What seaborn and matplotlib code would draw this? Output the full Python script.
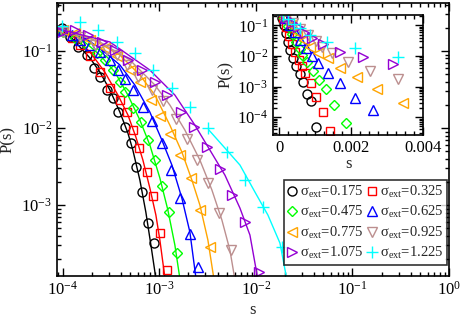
import numpy as np
import matplotlib
matplotlib.use("Agg")
import matplotlib.pyplot as plt
import seaborn as sns
from matplotlib.ticker import LogLocator, MultipleLocator, NullFormatter, FixedLocator, FixedFormatter

# ------------------------------------------------------------
# data
# ------------------------------------------------------------
sigma_ext = ["0.175", "0.325", "0.475", "0.625", "0.775", "0.925", "1.075", "1.225"]
colors = ["#000000", "#FF0000", "#00FF00", "#0000FF", "#FFA500", "#BC8F8F", "#9400D3", "#00FFFF"]
markers = ["o", "s", "D", "^", "<", "v", ">", "+"]
msizes = [6.5, 6, 5, 7, 7, 7, 7, 8]

# main panel: measured points
main_s = [
    [9.76e-5, 1.18e-4, 1.43e-4, 1.77e-4, 2.10e-4, 2.42e-4, 2.86e-4, 3.30e-4, 3.72e-4, 4.39e-4, 5.07e-4, 5.71e-4, 6.59e-4, 7.60e-4, 8.77e-4],
    [9.76e-5, 1.24e-4, 1.50e-4, 1.91e-4, 2.42e-4, 3.07e-4, 3.90e-4, 4.61e-4, 5.31e-4, 6.13e-4, 7.42e-4, 8.56e-4, 1.012e-3, 1.196e-3],
    [1.0e-4, 1.33e-4, 1.69e-4, 2.25e-4, 2.72e-4, 3.30e-4, 3.90e-4, 4.39e-4, 5.31e-4, 6.43e-4, 7.60e-4, 8.98e-4, 1.061e-3, 1.254e-3, 1.518e-3],
    [1.0e-4, 1.24e-4, 1.50e-4, 1.91e-4, 2.42e-4, 3.07e-4, 3.72e-4, 4.39e-4, 5.31e-4, 6.75e-4, 8.36e-4, 1.061e-3, 1.316e-3, 1.631e-3, 2.070e-3, 2.506e-3],
    [1.0e-4, 1.33e-4, 1.91e-4, 2.72e-4, 3.63e-4, 4.95e-4, 6.28e-4, 8.17e-4, 1.012e-3, 1.284e-3, 1.631e-3, 2.12e-3, 2.628e-3, 3.337e-3],
    [1.0e-4, 1.50e-4, 2.15e-4, 2.86e-4, 3.63e-4, 4.61e-4, 5.99e-4, 8.36e-4, 1.087e-3, 1.482e-3, 1.927e-3, 2.447e-3, 3.182e-3, 4.137e-3, 5.51e-3],
    [9.76e-5, 1.33e-4, 1.82e-4, 2.54e-4, 3.46e-4, 4.72e-4, 6.59e-4, 8.98e-4, 1.196e-3, 1.670e-3, 2.278e-3, 3.106e-3, 4.236e-3, 5.64e-3, 7.69e-3, 1.074e-2],
    [9.76e-5, 1.50e-4, 2.31e-4, 3.63e-4, 5.57e-4, 8.56e-4, 1.348e-3, 2.070e-3, 3.182e-3, 5.006e-3, 7.69e-3, 1.182e-2, 1.860e-2],
]
main_p = [
    [0.199, 0.152, 0.113, 0.0887, 0.0601, 0.0459, 0.0312, 0.0245, 0.0161, 0.0103, 0.00638, 0.00312, 0.00148, 5.84e-4, 3.21e-4],
    [0.187, 0.148, 0.120, 0.0861, 0.0533, 0.0331, 0.0231, 0.0161, 0.00942, 0.00550, 0.00268, 0.00131, 4.33e-4, 1.43e-4],
    [0.177, 0.148, 0.127, 0.0942, 0.0764, 0.0566, 0.0396, 0.0294, 0.0182, 0.0120, 0.00698, 0.00384, 0.00176, 8.11e-4, 2.38e-4],
    [0.187, 0.161, 0.139, 0.120, 0.0971, 0.0764, 0.0566, 0.0433, 0.0312, 0.0188, 0.0123, 0.00638, 0.00285, 0.00123, 4.20e-4, 1.57e-4],
    [0.187, 0.171, 0.139, 0.109, 0.0861, 0.0566, 0.0396, 0.0231, 0.0143, 0.00836, 0.00446, 0.00224, 8.61e-4, 2.85e-4],
    [0.177, 0.152, 0.120, 0.103, 0.0887, 0.0658, 0.0459, 0.0312, 0.0224, 0.0131, 0.00720, 0.00384, 0.00193, 7.87e-4, 2.60e-4],
    [0.177, 0.187, 0.161, 0.131, 0.103, 0.0764, 0.0566, 0.0396, 0.0268, 0.0161, 0.0103, 0.00566, 0.00294, 0.00135, 6.01e-4, 1.35e-4],
    [0.211, 0.238, 0.187, 0.131, 0.0942, 0.0566, 0.0331, 0.0188, 0.0100, 0.00488, 0.00211, 9.42e-4, 2.85e-4],
]

# main panel: fitted curves
fit_s = [
    [8.87e-5, 1.18e-4, 1.50e-4, 1.91e-4, 2.42e-4, 3.07e-4, 3.90e-4, 4.72e-4, 5.31e-4, 6.28e-4, 7.24e-4, 8.17e-4, 9.42e-4],
    [8.87e-5, 1.33e-4, 1.91e-4, 2.72e-4, 3.72e-4, 4.72e-4, 5.71e-4, 6.75e-4, 7.97e-4, 9.20e-4, 1.012e-3, 1.168e-3],
    [8.87e-5, 1.50e-4, 2.42e-4, 3.46e-4, 4.72e-4, 6.28e-4, 7.97e-4, 1.012e-3, 1.225e-3, 1.447e-3, 1.670e-3],
    [8.87e-5, 1.50e-4, 2.42e-4, 3.90e-4, 5.57e-4, 7.97e-4, 1.061e-3, 1.348e-3, 1.710e-3, 2.070e-3, 2.447e-3],
    [8.87e-5, 1.91e-4, 3.90e-4, 6.28e-4, 8.98e-4, 1.284e-3, 1.710e-3, 2.172e-3, 2.628e-3, 3.182e-3, 3.758e-3],
    [8.87e-5, 2.42e-4, 4.95e-4, 8.98e-4, 1.284e-3, 1.837e-3, 2.628e-3, 3.50e-3, 4.443e-3, 5.378e-3, 6.20e-3],
    [8.87e-5, 3.07e-4, 7.97e-4, 1.447e-3, 2.333e-3, 3.337e-3, 4.773e-3, 6.83e-3, 8.67e-3, 1.074e-2],
    [3.258e-3, 4.773e-3, 6.83e-3, 9.76e-3, 1.331e-2, 1.774e-2, 2.146e-2],
]
fit_p = [
    [0.211, 0.157, 0.113, 0.0811, 0.0533, 0.0312, 0.0161, 0.00861, 0.00518, 0.00211, 8.11e-4, 3.03e-4, 9.1e-5],
    [0.206, 0.148, 0.0971, 0.0533, 0.0268, 0.0148, 0.00764, 0.00384, 0.00166, 7.42e-4, 3.51e-4, 9.1e-5],
    [0.199, 0.148, 0.0887, 0.0533, 0.0268, 0.0127, 0.00601, 0.00224, 8.61e-4, 3.03e-4, 9.1e-5],
    [0.206, 0.161, 0.109, 0.0658, 0.0362, 0.0161, 0.00698, 0.00331, 0.00123, 4.46e-4, 9.1e-5],
    [0.199, 0.148, 0.0887, 0.0488, 0.0268, 0.0109, 0.00488, 0.00211, 0.00100, 3.51e-4, 9.1e-5],
    [0.199, 0.131, 0.0764, 0.0362, 0.0199, 0.00942, 0.00384, 0.00157, 6.39e-4, 2.60e-4, 9.1e-5],
    [0.194, 0.131, 0.0566, 0.0268, 0.0109, 0.00518, 0.00245, 9.14e-4, 4.08e-4, 9.1e-5],
    [0.00942, 0.00550, 0.00331, 0.00148, 7.42e-4, 3.21e-4, 9.1e-5],
]

# inset: same distributions on a linear s axis
ins_s = [
    [8.3e-5, 1.39e-4, 1.94e-4, 2.5e-4, 3.06e-4, 3.89e-4, 4.72e-4, 5.83e-4, 6.67e-4, 7.78e-4, 8.89e-4, 1.028e-3],
    [1.11e-4, 1.94e-4, 2.78e-4, 3.61e-4, 4.44e-4, 5.56e-4, 6.39e-4, 7.22e-4, 8.89e-4, 1.028e-3, 1.222e-3, 1.417e-3],
    [1.39e-4, 2.5e-4, 3.61e-4, 4.72e-4, 5.83e-4, 6.39e-4, 7.78e-4, 9.44e-4, 1.111e-3, 1.306e-3, 1.528e-3, 1.861e-3],
    [1.67e-4, 3.06e-4, 4.44e-4, 5.83e-4, 7.5e-4, 9.17e-4, 1.083e-3, 1.361e-3, 1.694e-3, 2.111e-3, 2.611e-3],
    [1.67e-4, 3.33e-4, 5.0e-4, 6.94e-4, 8.61e-4, 1.083e-3, 1.361e-3, 1.694e-3, 2.167e-3, 2.722e-3, 3.444e-3],
    [1.94e-4, 3.89e-4, 5.83e-4, 8.06e-4, 1.028e-3, 1.194e-3, 1.472e-3, 1.917e-3, 2.528e-3, 3.306e-3],
    [1.94e-4, 3.61e-4, 5.28e-4, 7.22e-4, 9.17e-4, 1.222e-3, 1.694e-3, 2.333e-3, 3.167e-3],
    [1.11e-4, 2.5e-4, 4.17e-4, 5.83e-4, 8.61e-4, 1.333e-3, 2.111e-3, 3.306e-3],
]
ins_p = [
    [0.169, 0.100, 0.0548, 0.0279, 0.0153, 0.00839, 0.00460, 0.00252, 0.00138, 5.62e-4, 3.32e-4, 4.72e-5],
    [0.169, 0.0859, 0.0438, 0.0240, 0.0132, 0.00722, 0.00460, 0.00272, 0.00128, 4.49e-4, 1.46e-4, 3.50e-5],
    [0.169, 0.0927, 0.0508, 0.0279, 0.0165, 0.0105, 0.00621, 0.00316, 0.00161, 8.18e-4, 2.46e-4, 6.37e-5],
    [0.169, 0.100, 0.0590, 0.0324, 0.0178, 0.00975, 0.00577, 0.00272, 0.00128, 4.16e-4, 1.69e-4],
    [0.169, 0.100, 0.0590, 0.0324, 0.0191, 0.0122, 0.00839, 0.00396, 0.00201, 8.18e-4, 2.86e-4],
    [0.182, 0.116, 0.0740, 0.0472, 0.0301, 0.0191, 0.0122, 0.00621, 0.00316, 0.00173],
    [0.182, 0.125, 0.0859, 0.0548, 0.0377, 0.0240, 0.0132, 0.00904, 0.00535],
    [0.212, 0.157, 0.108, 0.0798, 0.0472, 0.0279, 0.0178, 0.00904],
]

# ------------------------------------------------------------
# style
# ------------------------------------------------------------
sns.set_style("ticks")
plt.rcParams["font.family"] = ["Liberation Serif", "DejaVu Serif"]
plt.rcParams["mathtext.fontset"] = "custom"
plt.rcParams["mathtext.rm"] = "Liberation Serif"
plt.rcParams["mathtext.it"] = "Liberation Serif:italic"
plt.rcParams["font.size"] = 12
plt.rcParams["axes.linewidth"] = 1.2


def style_ticks(ax):
    ax.tick_params(which="both", direction="in", top=True, right=True, labelsize=12, colors="black")
    ax.tick_params(which="major", length=6, width=1)
    ax.tick_params(which="minor", length=3, width=1)
    for sp in ax.spines.values():
        sp.set_color("black")
        sp.set_linewidth(1.2)


fig = plt.figure(figsize=(4.63, 3.17), dpi=100)

# ------------------------------------------------------------
# main panel
# ------------------------------------------------------------
ax = fig.add_axes([57 / 463, 1 - 276 / 317, 392 / 463, 273 / 317])
ax.set_xscale("log")
ax.set_yscale("log")

for i in range(8):
    sns.lineplot(x=fit_s[i], y=fit_p[i], ax=ax, color=colors[i], lw=1.0, sort=False, estimator=None)
    sns.lineplot(x=main_s[i], y=main_p[i], ax=ax, color=colors[i], marker=markers[i], linestyle="",
                 ms=msizes[i], mfc="none", mec=colors[i], mew=1.0, sort=False, estimator=None,
                 label="σ$_{\\rm ext}$=" + sigma_ext[i])

ax.set_xlim(8.7e-5, 1.0)
ax.set_ylim(1.2e-4, 0.42)
ax.xaxis.set_major_locator(LogLocator(base=10, numticks=10))
ax.xaxis.set_minor_locator(LogLocator(base=10, subs=np.arange(2, 10), numticks=20))
ax.yaxis.set_minor_locator(LogLocator(base=10, subs=np.arange(2, 10), numticks=20))
ax.xaxis.set_minor_formatter(NullFormatter())
ax.yaxis.set_minor_formatter(NullFormatter())
style_ticks(ax)
ax.set_xlabel("s", fontsize=12, labelpad=2)
ax.set_ylabel("P(s)", fontsize=12, labelpad=4)

# legend is filled row by row in the reference
handles, labels = ax.get_legend_handles_labels()
order = [0, 2, 4, 6, 1, 3, 5, 7]
leg = ax.legend([handles[k] for k in order], [labels[k] for k in order], ncol=2,
                loc="lower right", bbox_to_anchor=(0.995, 0.04),
                frameon=True, fancybox=False, edgecolor="black", fontsize=10.5,
                handlelength=0.6, handletextpad=0.25, columnspacing=0.25,
                labelspacing=0.3, borderpad=0.25, borderaxespad=0.0)
leg.get_frame().set_linewidth(1.2)

# ------------------------------------------------------------
# inset
# ------------------------------------------------------------
ax2 = fig.add_axes([273 / 463, 1 - 135 / 317, 150 / 463, 120 / 317])
ax2.set_yscale("log")
for i in range(8):
    sns.lineplot(x=ins_s[i], y=ins_p[i], ax=ax2, color=colors[i], marker=markers[i], linestyle="",
                 ms=msizes[i], mfc="none", mec=colors[i], mew=1.0, sort=False, estimator=None)
if ax2.get_legend() is not None:
    ax2.get_legend().remove()

ax2.set_xlim(-0.00017, 0.004)
ax2.set_ylim(2.6e-5, 0.22)
ax2.xaxis.set_major_locator(FixedLocator([0, 0.002, 0.004]))
ax2.xaxis.set_major_formatter(FixedFormatter(["0", "0.002", "0.004"]))
ax2.xaxis.set_minor_locator(MultipleLocator(0.00025))
ax2.yaxis.set_major_locator(FixedLocator([1e-4, 1e-3, 1e-2, 1e-1]))
ax2.yaxis.set_minor_locator(LogLocator(base=10, subs=np.arange(2, 10), numticks=20))
ax2.yaxis.set_minor_formatter(NullFormatter())
style_ticks(ax2)
ax2.set_xlabel("s", fontsize=12, labelpad=0)
ax2.set_ylabel("P(s)", fontsize=12, labelpad=2)

fig.savefig("out.png", dpi=100)
